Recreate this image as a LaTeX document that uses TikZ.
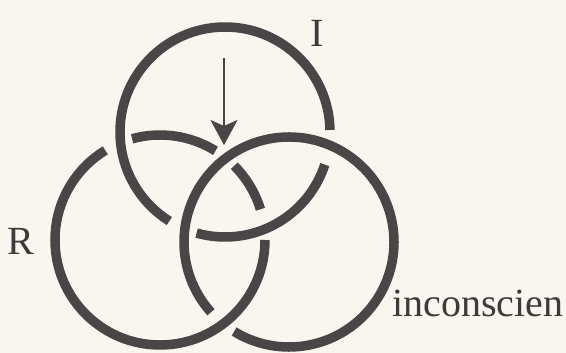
\documentclass[tikz,border=0pt]{standalone}
\usepackage{fontspec}
\setmainfont{Liberation Serif}
\usetikzlibrary{arrows.meta}
\definecolor{bgcol}{RGB}{248,246,238}
\definecolor{ringcol}{RGB}{72,70,70}
\definecolor{txtcol}{RGB}{60,58,58}
\begin{document}
\begin{tikzpicture}[x=1pt,y=1pt,
  ring/.style={draw=ringcol,line width=9.5pt},
  lbl/.style={text=txtcol,font=\fontsize{40}{40}\selectfont,inner sep=0pt}]
\fill[bgcol] (0,0) rectangle (566,353);
\useasboundingbox (0,0) rectangle (566,353);
\def\rr{105}
\coordinate (cI) at (225,221);
\coordinate (cR) at (160,113);
\coordinate (cS) at (289,111);
% ring I (top)
\draw[ring] ([shift={(1.1:\rr)}]cI) arc[start angle=1.1,end angle=238,radius=\rr];
\draw[ring] ([shift={(-18.1:\rr)}]cI) arc[start angle=-18.1,end angle=-105.7,radius=\rr];
% ring R (left)
\draw[ring] ([shift={(105.4:\rr)}]cR) arc[start angle=105.4,end angle=58.1,radius=\rr];
\draw[ring] ([shift={(45:\rr)}]cR) arc[start angle=45,end angle=17,radius=\rr];
\draw[ring] ([shift={(0:\rr)}]cR) arc[start angle=0,end angle=-238.6,radius=\rr];
% ring S (right)
\draw[ring] ([shift={(238.5:\rr)}]cS) arc[start angle=238.5,end angle=582,radius=\rr];
% arrow
\coordinate (a0) at (224,295);
\coordinate (a1) at (224,208);
\draw[draw=ringcol,line width=2pt,-{Stealth[length=25pt,width=27pt,inset=6pt]}] (a0) -- (a1);
% labels
\node[lbl,anchor=base] (lI) at (317.5,306) {I};
\node[lbl,anchor=base] (lR) at (20.5,98) {R};
\node[lbl,anchor=base west] (lS) at (392,36) {inconscien};
\end{tikzpicture}
\end{document}
